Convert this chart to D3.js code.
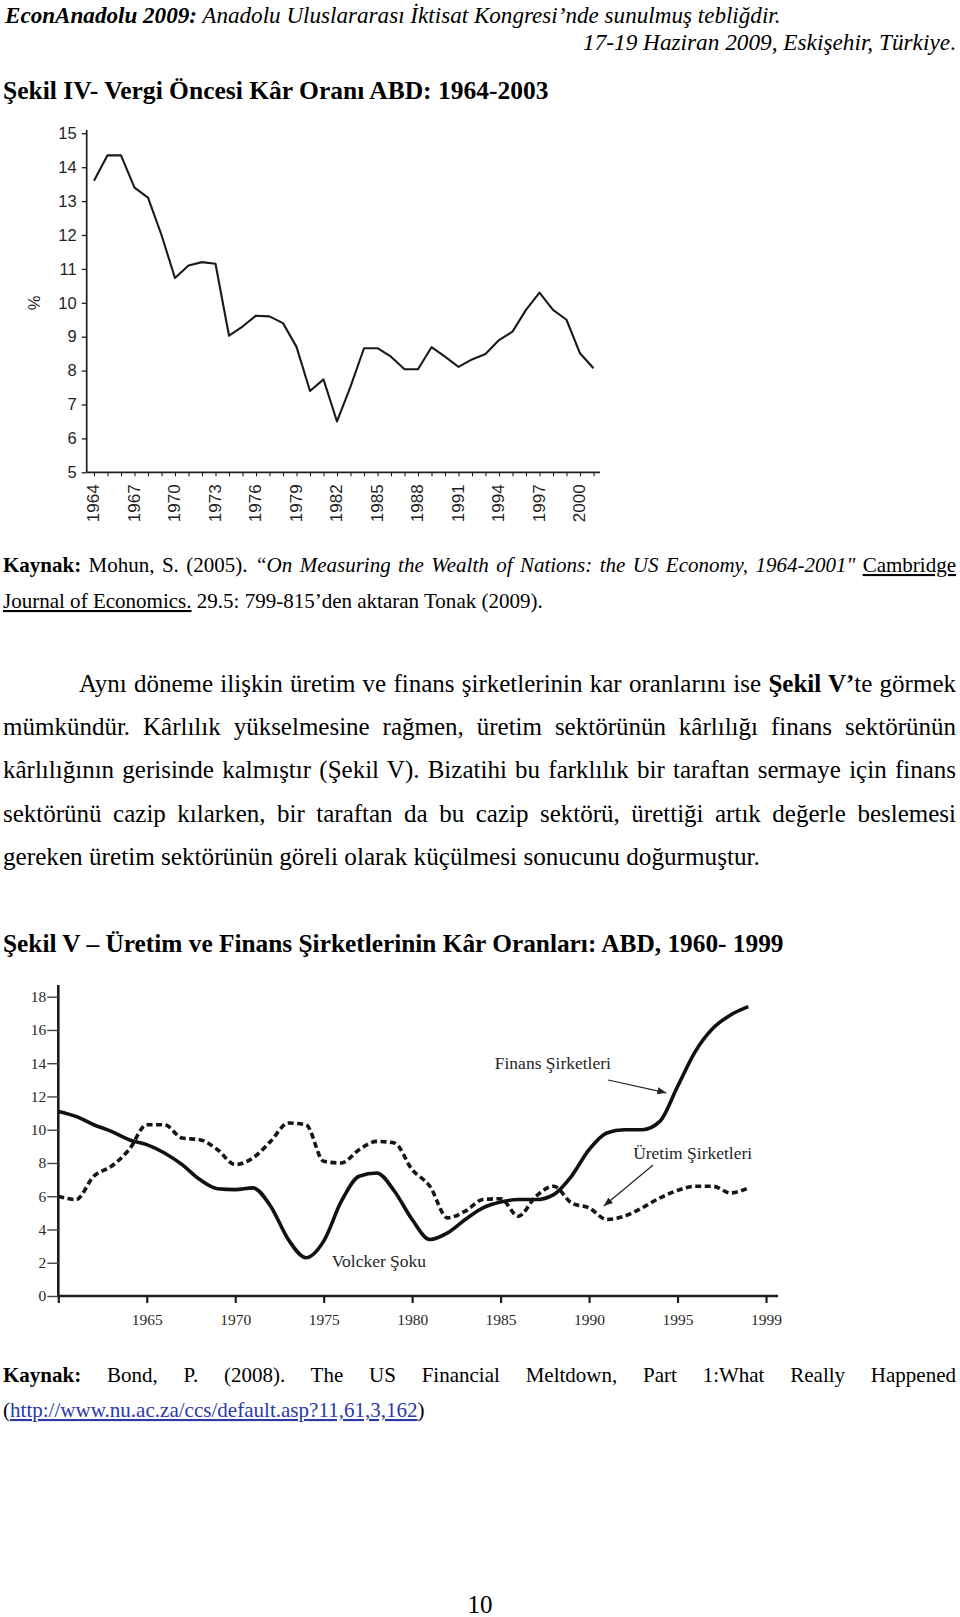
<!DOCTYPE html>
<html><head><meta charset="utf-8">
<script src="https://cdn.jsdelivr.net/npm/d3@7"></script>
<style>
html,body{margin:0;padding:0;background:#fff;}
svg{display:block;}
</style></head><body>
<svg id="page" width="960" height="1617"></svg>
<script>
// ---------- Figure IV data: pre-tax profit rate, USA 1964-2001 (%) ----------
const fig4Years = [1964,1965,1966,1967,1968,1969,1970,1971,1972,1973,1974,1975,1976,1977,1978,1979,1980,1981,1982,1983,1984,1985,1986,1987,1988,1989,1990,1991,1992,1993,1994,1995,1996,1997,1998,1999,2000,2001];
const fig4Values = [13.6,14.35,14.35,13.4,13.1,12.0,10.73,11.1,11.2,11.15,9.03,9.3,9.62,9.6,9.4,8.7,7.4,7.74,6.5,7.53,8.66,8.66,8.41,8.04,8.04,8.69,8.41,8.11,8.33,8.49,8.9,9.15,9.79,10.3,9.79,9.5,8.51,8.07];
const fig4YTicks = [5,6,7,8,9,10,11,12,13,14,15];
const fig4XLabels = ["1964","1967","1970","1973","1976","1979","1982","1985","1988","1991","1994","1997","2000"];

// ---------- Figure V data: profit rates of production and finance firms 1960-1999 ----------
const fig5Years = [1960,1961,1962,1963,1964,1965,1966,1967,1968,1969,1970,1971,1972,1973,1974,1975,1976,1977,1978,1979,1980,1981,1982,1983,1984,1985,1986,1987,1988,1989,1990,1991,1992,1993,1994,1995,1996,1997,1998,1999];
const finansValues = [11.1,10.8,10.3,9.9,9.4,9.1,8.6,7.9,7.0,6.45,6.4,6.5,5.4,3.4,2.3,3.3,5.7,7.2,7.4,6.3,4.6,3.4,3.8,4.6,5.3,5.65,5.8,5.8,6.1,7.2,8.8,9.8,10.0,10.0,10.5,12.6,14.7,16.1,16.9,17.4];
const uretimValues = [6.0,5.8,7.2,7.8,8.8,10.3,10.3,9.5,9.4,8.8,7.9,8.3,9.3,10.4,10.3,8.1,8.0,8.8,9.3,9.2,7.6,6.6,4.7,5.1,5.8,5.85,4.8,6.0,6.6,5.6,5.3,4.6,4.8,5.3,5.9,6.35,6.6,6.6,6.2,6.5];
const fig5YTicks = [0,2,4,6,8,10,12,14,16,18];
const fig5XTickYears = [1960,1965,1970,1975,1980,1985,1990,1995,2000];
const fig5XTickLabels = ["","1965","1970","1975","1980","1985","1990","1995","1999"];

const SERIF = "'Liberation Serif','Times New Roman',Times,serif";
const SANS = "'Liberation Sans',Arial,Helvetica,sans-serif";
const svg = d3.select('#page');

// ---------- text helper ----------
function textLine(x, y, parts, opt) {
  const t = svg.append('text').attr('x', x).attr('y', y)
    .attr('font-family', SERIF).attr('font-size', opt.size).attr('fill', '#000');
  parts.forEach(p => {
    const s = t.append('tspan').text(p.t);
    if (p.b) s.attr('font-weight', 'bold');
    if (p.i) s.attr('font-style', 'italic');
    if (p.u) s.attr('text-decoration', 'underline');
    if (p.c) s.attr('fill', p.c);
  });
  const w = t.node().getComputedTextLength();
  if (opt.justify) {
    const full = parts.map(p => p.t).join('');
    const n = (full.match(/ /g) || []).length;
    t.attr('word-spacing', (opt.width - w) / n);
  } else if (opt.width) {
    t.attr('font-size', opt.size * opt.width / w);
  }
  if (opt.anchor) t.attr('text-anchor', opt.anchor);
  return t;
}

// ---------- header ----------
textLine(5, 23, [{t: 'EconAnadolu 2009:', b: 1, i: 1}, {t: ' Anadolu Uluslararası İktisat Kongresi’nde sunulmuş tebliğdir.', i: 1}], {size: 23, width: 776});
textLine(583, 50, [{t: '17-19 Haziran 2009, Eskişehir, Türkiye', i: 1}, {t: '.'}], {size: 23, width: 373});
textLine(3, 99, [{t: 'Şekil IV- Vergi Öncesi Kâr Oranı ABD: 1964-2003', b: 1}], {size: 25, width: 546});

// ---------- Figure IV ----------
(function() {
  const x = d3.scaleLinear().domain([1964, 2001]).range([94, 593.5]);
  const y = d3.scaleLinear().domain([5, 15]).range([472.3, 133.3]);
  const g = svg.append('g').attr('font-family', SANS);
  const ink = '#1f1f1f';

  g.append('line').attr('x1', 86.7).attr('x2', 86.7).attr('y1', y(5)).attr('y2', 130)
    .attr('stroke', ink).attr('stroke-width', 1.7);
  g.append('line').attr('x1', 86.7).attr('x2', 600).attr('y1', y(5)).attr('y2', y(5))
    .attr('stroke', ink).attr('stroke-width', 1.7);

  const ya = g.append('g').attr('transform', 'translate(86.7,0)')
    .call(d3.axisLeft(y).tickValues(fig4YTicks).tickFormat(d3.format('d')).tickSize(5).tickSizeOuter(0).tickPadding(5));
  ya.select('.domain').remove();
  ya.selectAll('line').attr('stroke', ink).attr('stroke-width', 1.3);
  ya.selectAll('text').attr('font-family', SANS).attr('font-size', 16.5).attr('fill', ink);

  const xa = g.append('g').attr('transform', `translate(0,${y(5)})`)
    .call(d3.axisBottom(x).tickValues(fig4Years)
      .tickFormat(d => fig4XLabels.includes(String(d)) ? String(d) : '')
      .tickSize(4).tickSizeOuter(0));
  xa.select('.domain').remove();
  xa.selectAll('line').attr('stroke', ink).attr('stroke-width', 1.1);
  xa.selectAll('text').attr('font-family', SANS).attr('font-size', 17).attr('fill', ink)
    .attr('transform', 'rotate(-90)').attr('text-anchor', 'end')
    .attr('x', -12).attr('y', -1.5).attr('dy', '0.36em');

  g.append('text').attr('transform', 'translate(40,303) rotate(-90)')
    .attr('text-anchor', 'middle').attr('font-size', 16.5).attr('fill', ink).text('%');

  const line = d3.line().x((d, i) => x(fig4Years[i])).y(d => y(d));
  g.append('path').datum(fig4Values).attr('d', line)
    .attr('fill', 'none').attr('stroke', '#1a1a1a').attr('stroke-width', 2.1).attr('stroke-linejoin', 'round');
})();

// ---------- source 1 ----------
textLine(3, 572, [
  {t: 'Kaynak:', b: 1}, {t: ' Mohun, S. (2005). '},
  {t: '“On Measuring the Wealth of Nations: the US Economy, 1964-2001"', i: 1},
  {t: ' '}, {t: 'Cambridge', u: 1}
], {size: 21, width: 953, justify: true});
textLine(3, 608, [{t: 'Journal of Economics.', u: 1}, {t: ' 29.5: 799-815’den aktaran Tonak (2009).'}], {size: 21, width: 540});

// ---------- paragraph ----------
textLine(79, 692, [{t: 'Aynı döneme ilişkin üretim ve finans şirketlerinin kar oranlarını ise '}, {t: 'Şekil V’', b: 1}, {t: 'te görmek'}], {size: 25, width: 877, justify: true});
textLine(3, 735, [{t: 'mümkündür. Kârlılık yükselmesine rağmen, üretim sektörünün kârlılığı finans sektörünün'}], {size: 25, width: 953, justify: true});
textLine(3, 778, [{t: 'kârlılığının gerisinde kalmıştır (Şekil V). Bizatihi bu farklılık bir taraftan sermaye için finans'}], {size: 25, width: 953, justify: true});
textLine(3, 822, [{t: 'sektörünü cazip kılarken, bir taraftan da bu cazip sektörü, ürettiği artık değerle beslemesi'}], {size: 25, width: 953, justify: true});
textLine(3, 865, [{t: 'gereken üretim sektörünün göreli olarak küçülmesi sonucunu doğurmuştur.'}], {size: 25, width: 757});

textLine(3, 952, [{t: 'Şekil V – Üretim ve Finans Şirketlerinin Kâr Oranları: ABD, 1960- 1999', b: 1}], {size: 25, width: 781});

// ---------- Figure V ----------
(function() {
  const x = d3.scaleLinear().domain([1960, 2000]).range([58.3, 766]);
  const y = d3.scaleLinear().domain([0, 18]).range([1296, 996.7]);
  const g = svg.append('g').attr('font-family', SERIF);
  const ink = '#1c1c1c';

  g.append('line').attr('x1', x(1960)).attr('x2', x(1960)).attr('y1', y(0) + 1).attr('y2', 985)
    .attr('stroke', ink).attr('stroke-width', 2.6);
  g.append('line').attr('x1', x(1960) - 1).attr('x2', 778).attr('y1', y(0)).attr('y2', y(0))
    .attr('stroke', ink).attr('stroke-width', 2.6);

  const ya = g.append('g').attr('transform', `translate(${x(1960)},0)`)
    .call(d3.axisLeft(y).tickValues(fig5YTicks).tickFormat(d3.format('d')).tickSize(11).tickSizeOuter(0).tickPadding(1));
  ya.select('.domain').remove();
  ya.selectAll('line').attr('stroke', '#444').attr('stroke-width', 1.4);
  ya.selectAll('text').attr('font-family', SERIF).attr('font-size', 15.5).attr('fill', '#2a2a2a');

  const xa = g.append('g').attr('transform', `translate(0,${y(0)})`)
    .call(d3.axisBottom(x).tickValues(fig5XTickYears)
      .tickFormat((d, i) => fig5XTickLabels[i]).tickSize(7).tickSizeOuter(0).tickPadding(11));
  xa.select('.domain').remove();
  xa.selectAll('line').attr('stroke', ink).attr('stroke-width', 2.2);
  xa.selectAll('text').attr('font-family', SERIF).attr('font-size', 15.5).attr('fill', '#2a2a2a');

  const line = d3.line().x((d, i) => x(fig5Years[i])).y(d => y(d)).curve(d3.curveMonotoneX);
  g.append('path').datum(uretimValues).attr('d', line)
    .attr('fill', 'none').attr('stroke', '#151515').attr('stroke-width', 3.6)
    .attr('stroke-dasharray', '6,3.5');
  g.append('path').datum(finansValues).attr('d', line)
    .attr('fill', 'none').attr('stroke', '#111').attr('stroke-width', 3.6).attr('stroke-linejoin', 'round');

  const defs = svg.append('defs');
  defs.append('marker').attr('id', 'ah').attr('viewBox', '0 0 10 10').attr('refX', 10).attr('refY', 5)
    .attr('markerWidth', 9).attr('markerHeight', 9).attr('markerUnits', 'userSpaceOnUse').attr('orient', 'auto')
    .append('path').attr('d', 'M0,1 L10,5 L0,9 Z').attr('fill', '#222');

  const ann = g.append('g').attr('font-size', 17.5).attr('fill', '#262626');
  ann.append('text').attr('x', x(1984.67)).attr('y', y(13.65)).text('Finans Şirketleri');
  ann.append('text').attr('x', x(1992.49)).attr('y', y(8.24)).text('Üretim Şirketleri');
  ann.append('text').attr('x', x(1975.45)).attr('y', y(1.76)).text('Volcker Şoku');
  g.append('line').attr('x1', x(1991.08)).attr('y1', y(12.99)).attr('x2', x(1994.37)).attr('y2', y(12.22))
    .attr('stroke', '#222').attr('stroke-width', 1.2).attr('marker-end', 'url(#ah)');
  g.append('line').attr('x1', x(1993.62)).attr('y1', y(7.88)).attr('x2', x(1990.83)).attr('y2', y(5.41))
    .attr('stroke', '#222').attr('stroke-width', 1.2).attr('marker-end', 'url(#ah)');
})();

// ---------- source 2 ----------
textLine(3, 1382, [{t: 'Kaynak:', b: 1}, {t: ' Bond, P. (2008). The US Financial Meltdown, Part 1:What Really Happened'}], {size: 21, width: 953, justify: true});
textLine(3, 1417, [{t: '('}, {t: 'http://www.nu.ac.za/ccs/default.asp?11,61,3,162', u: 1, c: '#2c3aa8'}, {t: ')'}], {size: 21, width: 422});

textLine(480, 1613, [{t: '10'}], {size: 25, anchor: 'middle'});
</script>
</body></html>
